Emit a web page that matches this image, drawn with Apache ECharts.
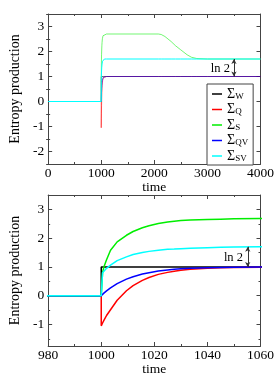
<!DOCTYPE html>
<html><head><meta charset="utf-8">
<script src="https://cdn.jsdelivr.net/npm/echarts@6/dist/echarts.min.js"></script>
<style>html,body{margin:0;padding:0;background:#fff}#c{width:277px;height:388px}</style>
</head><body><div id="c"></div>
<script>
// shared time samples
var times = [0, 1000, 1000, 1000.5, 1001, 1002, 1003.5, 1006, 1009.5, 1012, 1015.5, 1018, 1021.5, 1025, 1027.5, 1030, 1033.5, 1040, 1045, 1050, 1060, 1100, 2076, 2130, 2200, 2316, 2400, 2496, 2617, 2700, 2800, 3000, 4000];
var sigmaW  = [0, 0, 1, 1, 1, 1, 1, 1, 1, 1, 1, 1, 1, 1, 1, 1, 1, 1, 1, 1, 1, 1, 1, 1, 1, 1, 1, 1, 1, 1, 1, 1, 1];
var sigmaQ  = [0, 0, -1.05, -0.95, -0.86, -0.69, -0.49, -0.16, 0.17, 0.35, 0.53, 0.63, 0.74, 0.81, 0.85, 0.88, 0.92, 0.955, 0.97, 0.98, 0.99, 1, 1, 1, 1, 1, 1, 1, 1, 1, 1, 1, 1];
var sigmaS  = [0, 0, 0, 0.8, 1.0, 1.25, 1.58, 1.87, 2.10, 2.23, 2.36, 2.43, 2.51, 2.56, 2.59, 2.61, 2.63, 2.65, 2.66, 2.67, 2.68, 2.70, 2.70, 2.68, 2.60, 2.40, 2.23, 2.07, 1.87, 1.77, 1.72, 1.70, 1.70];
var sigmaQV = [0, 0, 0, 0.044, 0.087, 0.166, 0.27, 0.42, 0.575, 0.66, 0.75, 0.80, 0.855, 0.895, 0.915, 0.933, 0.95, 0.973, 0.982, 0.988, 0.995, 1, 1, 1, 1, 1, 1, 1, 1, 1, 1, 1, 1];
var sigmaSV = [0, 0, 0, 0.8, 0.85, 0.95, 1.06, 1.22, 1.35, 1.43, 1.50, 1.54, 1.58, 1.61, 1.62, 1.635, 1.65, 1.67, 1.68, 1.69, 1.70, 1.70, 1.70, 1.70, 1.70, 1.70, 1.70, 1.70, 1.70, 1.70, 1.70, 1.70, 1.70];
var seriesNames = ['W', 'Q', 'S', 'QV', 'SV'];
var seriesColors = ['#000000', '#ff0000', '#00ee00', '#0000ff', '#00ffff'];
var yTicksTop = [-2, -1, 0, 1, 2, 3];
var yMinorTop = [-2.5, -1.5, -0.5, 0.5, 1.5, 2.5, 3.5];
var yTicksBottom = [-1, 0, 1, 2, 3];
var yMinorBottom = [-1.5, -0.5, 0.5, 1.5, 2.5, 3.5];
var ln2Label = 'ln 2';

var FONT = 'Liberation Serif';
var AX = '#444';
var allVals = [sigmaW, sigmaQ, sigmaS, sigmaQV, sigmaSV];

function mk(vals) { return times.map(function (t, i) { return [t, vals[i]]; }); }

var grids = [
  { left: 42, top: 14, width: 221, height: 150 },
  { left: 42, top: 195, width: 221, height: 151 }
];

var xAxes = [], yAxes = [], series = [];
var xCfg = [{ min: 0, max: 4000, interval: 1000 }, { min: 980, max: 1060, interval: 20 }];
var yCfg = [{ min: -2.5, max: 3.5, major: yTicksTop, minor: yMinorTop },
            { min: -1.75, max: 3.5, major: yTicksBottom, minor: yMinorBottom }];

[0, 1].forEach(function (g) {
  ['bottom', 'top'].forEach(function (pos) {
    xAxes.push({
      type: 'value', gridIndex: g, position: pos, min: xCfg[g].min, max: xCfg[g].max, interval: xCfg[g].interval,
      axisLine: { show: true, onZero: false, lineStyle: { color: AX, width: 1 } },
      axisTick: { show: true, inside: true, length: 4, lineStyle: { color: AX } },
      minorTick: { show: true, splitNumber: 2, length: 2, lineStyle: { color: AX } },
      splitLine: { show: false }, minorSplitLine: { show: false },
      axisLabel: { show: pos === 'bottom', margin: 2, color: '#000', fontFamily: FONT, fontSize: 13.5,
        formatter: function (v) { return String(v); } },
      name: pos === 'bottom' ? 'time' : '', nameLocation: 'middle', nameGap: 13,
      nameTextStyle: { color: '#000', fontFamily: FONT, fontSize: 13.5 }
    });
  });
  ['left', 'right'].forEach(function (pos) {
    yAxes.push({
      type: 'value', gridIndex: g, position: pos, min: yCfg[g].min, max: yCfg[g].max,
      axisLine: { show: true, onZero: false, lineStyle: { color: AX, width: 1 } },
      axisTick: { show: true, inside: true, length: 4, customValues: yCfg[g].major, lineStyle: { color: AX } },
      splitLine: { show: false },
      axisLabel: { show: pos === 'left', customValues: yCfg[g].major, margin: 4, color: '#000', fontFamily: FONT, fontSize: 13.5 },
      name: pos === 'left' ? 'Entropy production' : '', nameLocation: 'middle', nameGap: 16,
      nameTextStyle: { color: '#000', fontFamily: FONT, fontSize: 14 }
    });
    yAxes.push({
      type: 'value', gridIndex: g, position: pos, min: yCfg[g].min, max: yCfg[g].max,
      axisLine: { show: false },
      axisTick: { show: true, inside: true, length: 2, customValues: yCfg[g].minor, lineStyle: { color: AX } },
      splitLine: { show: false },
      axisLabel: { show: false, customValues: yCfg[g].minor }
    });
  });
});

var lnPos = [{ x: 3500, tx: 3245 }, { x: 1055.2, tx: 1049.8 }];

[0, 1].forEach(function (g) {
  seriesNames.forEach(function (nm, k) {
    var s = {
      name: nm, type: 'line', xAxisIndex: g * 2, yAxisIndex: g * 4,
      data: mk(allVals[k]), showSymbol: false, symbol: 'none', smooth: false,
      lineStyle: { color: seriesColors[k], width: g === 0 ? 1 : 1.5, opacity: (g === 0 && nm !== 'SV') ? 0.55 : 1 },
      itemStyle: { color: seriesColors[k] },
      animation: false
    };
    if (nm === 'SV') {
      s.markLine = {
        silent: true, animation: false, symbol: ['arrow', 'arrow'], symbolSize: [4, 5],
        lineStyle: { color: '#333', width: 1, type: 'solid', opacity: 1 }, label: { show: false },
        data: [[{ coord: [lnPos[g].x, 1] }, { coord: [lnPos[g].x, 1.7] }]]
      };
      s.markPoint = {
        silent: true, animation: false, symbol: 'rect', symbolSize: 1,
        itemStyle: { color: 'rgba(0,0,0,0)' },
        label: { show: true, position: 'inside', formatter: ln2Label, color: '#000', fontFamily: FONT, fontSize: 12.5 },
        data: [{ coord: [lnPos[g].tx, 1.33] }]
      };
    }
    series.push(s);
  });
});

var chart = echarts.init(document.getElementById('c'), null, { renderer: 'canvas' });
chart.setOption({
  animation: false,
  backgroundColor: '#fff',
  grid: grids,
  xAxis: xAxes,
  yAxis: yAxes,
  legend: {
    data: seriesNames, orient: 'vertical', left: 207, top: 84,
    padding: [3, 5, 2, 5], itemGap: 1.5, itemWidth: 10, itemHeight: 1.5, icon: 'rect',
    borderColor: AX, borderWidth: 1, backgroundColor: '#fff', borderRadius: 0,
    selectedMode: false,
    formatter: function (n) { return '{s|Σ}{b|' + n + '}'; },
    textStyle: {
      color: '#000', fontFamily: FONT,
      rich: {
        s: { fontFamily: FONT, fontSize: 14, color: '#000', lineHeight: 14, verticalAlign: 'middle' },
        b: { fontFamily: FONT, fontSize: 9, color: '#000', lineHeight: 14, verticalAlign: 'bottom', padding: [3, 0, 0, 0] }
      }
    }
  },
  series: series
});
</script></body></html>
